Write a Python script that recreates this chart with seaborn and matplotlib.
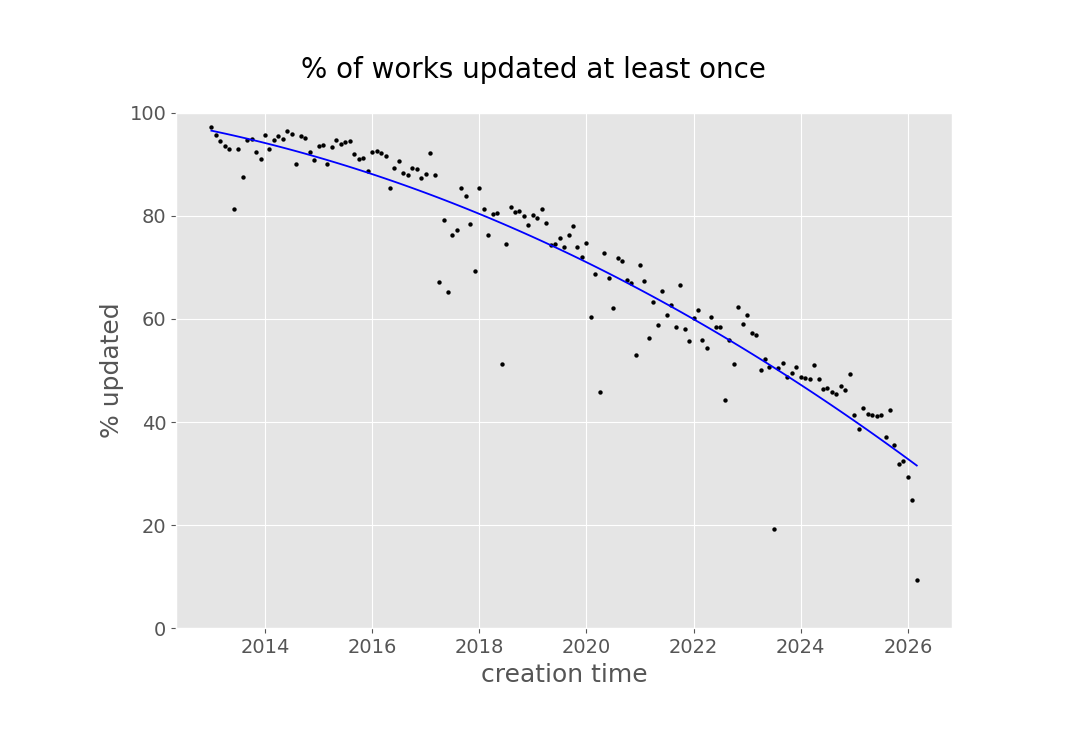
import numpy as np
import pandas as pd
import matplotlib
matplotlib.use("Agg")
import matplotlib.pyplot as plt
import seaborn as sns

start_year = 2013
pct_updated = [
    97.3, 95.7, 94.5, 93.5, 93.0, 81.3, 93.0, 87.5, 94.8, 95.0, 92.3, 91.0,
    95.6, 93.0, 94.8, 95.5, 95.0, 96.5, 95.8, 90.0, 95.5, 95.2, 92.3, 90.8,
    93.5, 93.8, 90.0, 93.3, 94.8, 94.0, 94.3, 94.6, 92.0, 91.0, 91.2, 88.8,
    92.3, 92.5, 92.2, 91.6, 85.5, 89.2, 90.6, 88.3, 88.0, 89.2, 89.0, 87.3,
    88.2, 92.2, 88.0, 67.2, 79.2, 65.3, 76.3, 77.3, 85.4, 83.8, 78.4, 69.3,
    85.4, 81.3, 76.3, 80.3, 80.5, 51.3, 74.5, 81.8, 80.8, 81.0, 80.0, 78.3,
    80.2, 79.5, 81.3, 78.7, 74.3, 74.6, 75.8, 74.0, 76.3, 78.0, 74.0, 72.1,
    74.8, 60.3, 68.8, 45.8, 72.8, 68.0, 62.2, 71.8, 71.2, 67.5, 67.0, 53.1,
    70.5, 67.4, 56.4, 63.2, 58.8, 65.4, 60.8, 62.8, 58.5, 66.5, 58.0, 55.8,
    60.2, 61.8, 55.9, 54.3, 60.3, 58.4, 58.4, 44.2, 56.0, 51.3, 62.3, 59.0,
    60.8, 57.3, 56.9, 50.1, 52.2, 50.6, 19.3, 50.4, 51.5, 48.8, 49.5, 50.6,
    48.8, 48.6, 48.3, 51.1, 48.4, 46.4, 46.7, 45.9, 45.5, 47.0, 46.3, 49.3,
    41.3, 38.6, 42.7, 41.6, 41.3, 41.2, 41.4, 37.1, 42.3, 35.5, 31.9, 32.5,
    29.3, 24.8, 9.4,
]
creation_time = [start_year + i / 12 for i in range(len(pct_updated))]
x_ticks = [2014, 2016, 2018, 2020, 2022, 2024, 2026]
y_ticks = [0, 20, 40, 60, 80, 100]

df = pd.DataFrame({"creation time": creation_time, "% updated": pct_updated})

plt.style.use("ggplot")
fig = plt.figure(figsize=(10.67, 7.47), dpi=100)
ax = fig.add_axes([0.165, 0.159, 0.727, 0.69])
sns.regplot(data=df, x="creation time", y="% updated", order=2, ci=None, ax=ax,
            scatter_kws=dict(color="black", s=10, alpha=1, linewidths=0),
            line_kws=dict(color="blue", lw=1.3))
ax.set_xlim(2012.34, 2026.82)
ax.set_ylim(0, 100)
ax.set_xticks(x_ticks)
ax.set_yticks(y_ticks)
ax.tick_params(labelsize=14, colors="#555555")
ax.set_xlabel("creation time", fontsize=18, color="#555555")
ax.set_ylabel("% updated", fontsize=18, color="#555555")
fig.suptitle("% of works updated at least once", fontsize=20, y=0.925, color="black")
fig.savefig("out.png", dpi=100, facecolor="white")
